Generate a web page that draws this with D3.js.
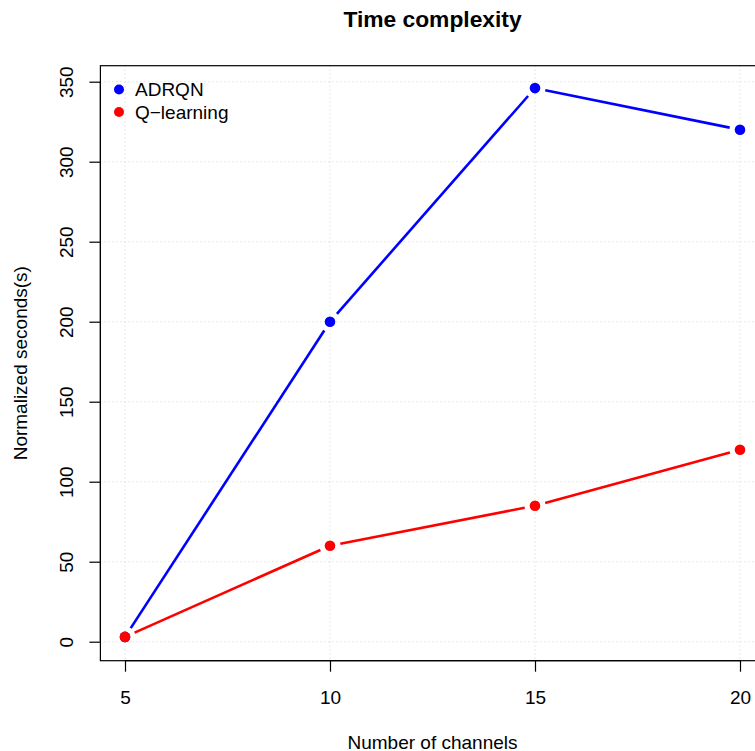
<!DOCTYPE html>
<html>
<head>
<meta charset="utf-8">
<script src="https://cdn.jsdelivr.net/npm/d3@7"></script>
<style>
  html, body { margin: 0; padding: 0; background: #fff; }
  svg { display: block; font-family: "Liberation Sans", Arial, Helvetica, sans-serif; }
</style>
</head>
<body>
<svg id="chart" width="755" height="751"></svg>
<script>
// Number of channels on the x axis
const channels = [5, 10, 15, 20];
// Normalized seconds per method
const adrqn = [3, 200, 346, 320];
const qlearning = [3, 60, 85, 120];
const seriesNames = ["ADRQN", "Q\u2212learning"];
const seriesColors = ["#0000ff", "#ff0000"];
const xTicks = [5, 10, 15, 20];
const yTicks = [0, 50, 100, 150, 200, 250, 300, 350];

const svg = d3.select("#chart");

// plot box (extends past the right edge of the canvas)
const box = { left: 100.4, right: 764.6, top: 65.7, bottom: 660.7 };

const x = d3.scaleLinear().domain([5, 20]).range([125, 740]);
const y = d3.scaleLinear().domain([0, 350]).range([641.7, 81.7]);

const fs = 19;

// dotted grid
const grid = svg.append("g").attr("stroke", "#d3d3d3").attr("stroke-width", 1)
  .attr("stroke-dasharray", "1,3");
grid.selectAll("line.gx").data(xTicks).enter().append("line")
  .attr("x1", d => x(d)).attr("x2", d => x(d))
  .attr("y1", box.top).attr("y2", box.bottom);
grid.selectAll("line.gy").data(yTicks).enter().append("line")
  .attr("x1", box.left).attr("x2", box.right)
  .attr("y1", d => y(d)).attr("y2", d => y(d));

// box
svg.append("rect")
  .attr("x", box.left).attr("y", box.top)
  .attr("width", box.right - box.left).attr("height", box.bottom - box.top)
  .attr("fill", "none").attr("stroke", "#000").attr("stroke-width", 1.2);

// x axis
const xAxis = d3.axisBottom(x).tickValues(xTicks).tickSize(11).tickPadding(4)
  .tickFormat(d3.format("d"));
const gx = svg.append("g").attr("transform", `translate(0,${box.bottom})`).call(xAxis);
gx.select(".domain").attr("d", `M${x(5)},0H${x(20)}`).attr("stroke-width", 1.2);
gx.selectAll(".tick line").attr("stroke-width", 1.2);
gx.selectAll(".tick text").attr("font-size", fs).attr("font-family", "Liberation Sans, Arial, sans-serif")
  .attr("y", null).attr("dy", null).attr("transform", "translate(0,43)");

// y axis
const yAxis = d3.axisLeft(y).tickValues(yTicks).tickSize(11).tickFormat(d3.format("d"));
const gy = svg.append("g").attr("transform", `translate(${box.left},0)`).call(yAxis);
gy.select(".domain").attr("d", `M0,${y(0)}V${y(350)}`).attr("stroke-width", 1.2);
gy.selectAll(".tick line").attr("stroke-width", 1.2);
gy.selectAll(".tick text")
  .attr("font-size", fs).attr("font-family", "Liberation Sans, Arial, sans-serif")
  .attr("x", null).attr("dy", null)
  .attr("text-anchor", "middle")
  .attr("transform", "translate(-27,0) rotate(-90)");

// axis titles
svg.append("text").attr("x", (box.left + box.right) / 2).attr("y", 748.5)
  .attr("text-anchor", "middle").attr("font-size", fs).text("Number of channels");
svg.append("text")
  .attr("transform", `translate(27,${(box.top + box.bottom) / 2}) rotate(-90)`)
  .attr("text-anchor", "middle").attr("font-size", fs).text("Normalized seconds(s)");
svg.append("text").attr("x", (box.left + box.right) / 2).attr("y", 27)
  .attr("text-anchor", "middle").attr("font-size", 22.8).attr("font-weight", "bold")
  .text("Time complexity");

// series: lines broken around the points, then filled points
const gap = 10.5, r = 5.3;
[adrqn, qlearning].forEach((vals, si) => {
  const pts = channels.map((c, i) => [x(c), y(vals[i])]);
  const g = svg.append("g");
  const segs = d3.pairs(pts).map(([a, b]) => {
    const dx = b[0] - a[0], dy = b[1] - a[1], L = Math.hypot(dx, dy);
    const ux = dx / L, uy = dy / L;
    return [a[0] + ux * gap, a[1] + uy * gap, b[0] - ux * gap, b[1] - uy * gap, L];
  }).filter(s => s[4] > 2 * gap);
  g.selectAll("line").data(segs).enter().append("line")
    .attr("x1", d => d[0]).attr("y1", d => d[1])
    .attr("x2", d => d[2]).attr("y2", d => d[3])
    .attr("stroke", seriesColors[si]).attr("stroke-width", 2.6);
  g.selectAll("circle").data(pts).enter().append("circle")
    .attr("cx", d => d[0]).attr("cy", d => d[1]).attr("r", r)
    .attr("fill", seriesColors[si]);
});

// legend (no frame)
const lg = svg.append("g");
seriesNames.forEach((name, i) => {
  const cy = 89.5 + i * 22.5;
  lg.append("circle").attr("cx", 119).attr("cy", cy).attr("r", 5).attr("fill", seriesColors[i]);
  lg.append("text").attr("x", 135).attr("y", cy + 6.8).attr("font-size", fs).text(name);
});
</script>
</body>
</html>
